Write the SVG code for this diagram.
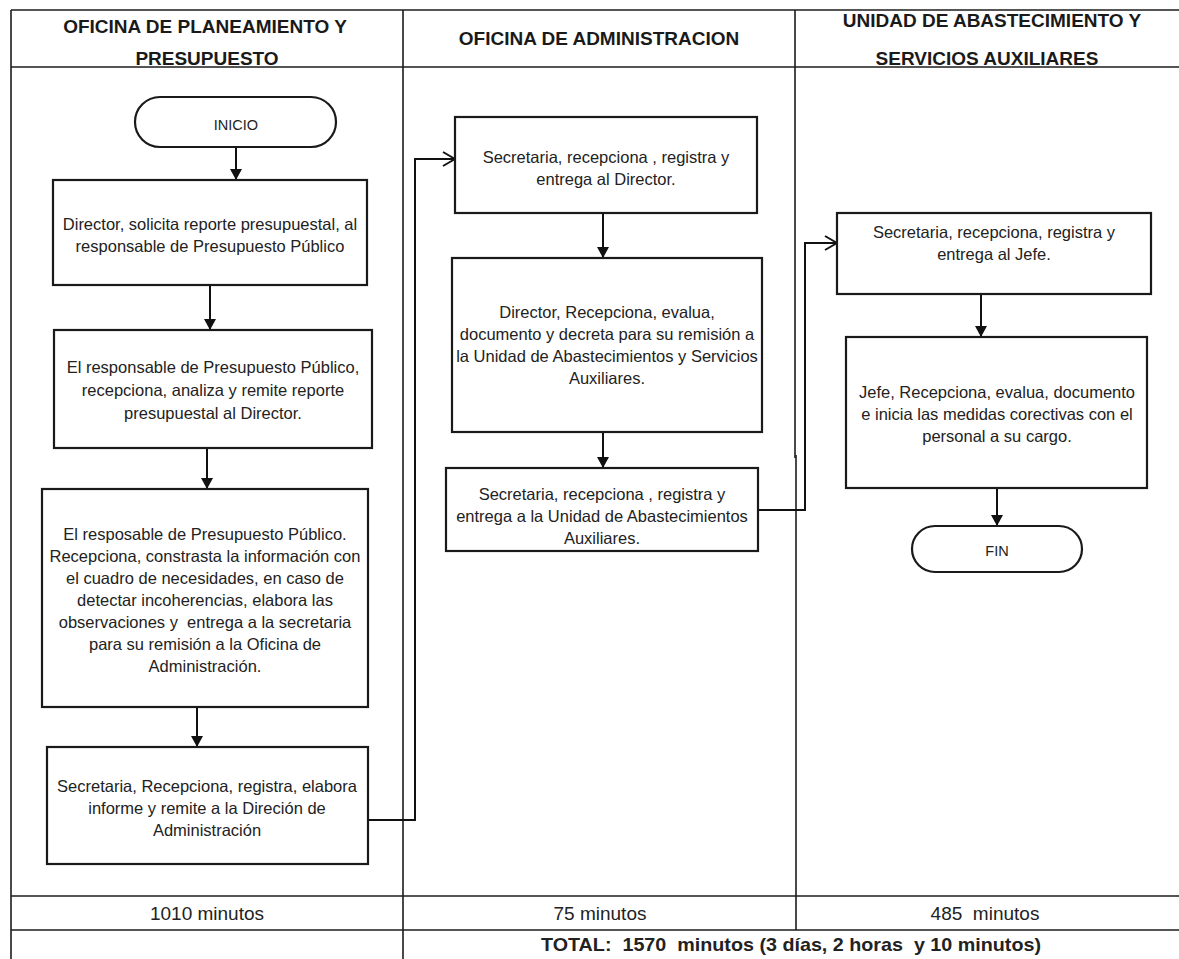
<svg xmlns="http://www.w3.org/2000/svg" width="1179" height="959" viewBox="0 0 1179 959">
  <style>
    .grid { stroke: #1c1c1c; stroke-width: 1.6; fill: none; }
    .box { fill: #fff; stroke: #1a1a1a; stroke-width: 2.2; }
    .t { font-family: "Liberation Sans", Arial, sans-serif; font-size: 16.5px; fill: #222; text-anchor: middle; }
    .h { font-weight: bold; font-size: 19px; fill: #1a1a1a; }
    .term { font-size: 14.5px; }
    .foot { font-size: 19px; }
    .total { font-weight: bold; font-size: 18.5px; }
    .conn { stroke: #111; stroke-width: 2; fill: none; }
  </style>
  <defs>
    <marker id="solid" viewBox="0 0 11 12" refX="11" refY="6" markerWidth="11" markerHeight="12" markerUnits="userSpaceOnUse" orient="auto">
      <path d="M0,0 L11,6 L0,12 Z" fill="#111"/>
    </marker>
    <marker id="open" viewBox="0 0 14 16" refX="13" refY="8" markerWidth="14" markerHeight="16" markerUnits="userSpaceOnUse" orient="auto">
      <path d="M1,1 L13,8 L1,15" fill="none" stroke="#111" stroke-width="2"/>
    </marker>
  </defs>

  <rect width="1179" height="959" fill="#fff"/>

  <!-- swimlane table -->
  <g id="lanes">
    <line class="grid" x1="11" y1="10" x2="1179" y2="10"/>
    <line class="grid" x1="11" y1="67" x2="1179" y2="67"/>
    <line class="grid" x1="11" y1="896" x2="1179" y2="896"/>
    <line class="grid" x1="11" y1="930" x2="1179" y2="930"/>
    <line class="grid" x1="11" y1="10" x2="11" y2="959"/>
    <line class="grid" x1="403" y1="10" x2="403" y2="959"/>
    <line class="grid" x1="795" y1="10" x2="795" y2="458"/>
    <line class="grid" x1="796" y1="455" x2="796" y2="930" stroke-width="2.6"/>
  </g>

  <g id="headers">
    <text class="t h" x="205" y="33">OFICINA DE PLANEAMIENTO Y</text>
    <text class="t h" x="207" y="65">PRESUPUESTO</text>
    <text class="t h" x="599" y="45">OFICINA DE ADMINISTRACION</text>
    <text class="t h" x="992" y="27">UNIDAD DE ABASTECIMIENTO Y</text>
    <text class="t h" x="987" y="65">SERVICIOS AUXILIARES</text>
  </g>

  <!-- connectors -->
  <g id="connectors">
    <path class="conn" d="M236,147 V180" marker-end="url(#solid)"/>
    <path class="conn" d="M210,285 V330" marker-end="url(#solid)"/>
    <path class="conn" d="M207,448 V489" marker-end="url(#solid)"/>
    <path class="conn" d="M197,707 V747" marker-end="url(#solid)"/>
    <path class="conn" d="M368,820 H415 V159 H455" marker-end="url(#open)"/>
    <path class="conn" d="M603,213 V258" marker-end="url(#solid)"/>
    <path class="conn" d="M603,432 V468" marker-end="url(#solid)"/>
    <path class="conn" d="M758,510 H805 V243 H837" marker-end="url(#open)"/>
    <path class="conn" d="M981,295 V337" marker-end="url(#solid)"/>
    <path class="conn" d="M997,488 V526" marker-end="url(#solid)"/>
  </g>

  <!-- Oficina de Planeamiento y Presupuesto -->
  <g id="inicio">
    <rect class="box" x="135" y="97" width="201" height="50" rx="25" ry="25"/>
    <text class="t term" x="236" y="130">INICIO</text>
  </g>
  <g id="p1">
    <rect class="box" x="53" y="180" width="314" height="105"/>
    <text class="t" x="210" y="230">Director, solicita reporte presupuestal, al</text>
    <text class="t" x="210" y="252">responsable de Presupuesto Público</text>
  </g>
  <g id="p2">
    <rect class="box" x="54" y="330" width="318" height="118"/>
    <text class="t" x="213" y="373">El responsable de Presupuesto Público,</text>
    <text class="t" x="213" y="396">recepciona, analiza y remite reporte</text>
    <text class="t" x="213" y="419">presupuestal al Director.</text>
  </g>
  <g id="p3">
    <rect class="box" x="42" y="489" width="326" height="218"/>
    <text class="t" x="205" y="540">El resposable de Presupuesto Público.</text>
    <text class="t" x="205" y="562">Recepciona, constrasta la información con</text>
    <text class="t" x="205" y="584">el cuadro de necesidades, en caso de</text>
    <text class="t" x="205" y="606">detectar incoherencias, elabora las</text>
    <text class="t" x="205" y="628" xml:space="preserve">observaciones y  entrega a la secretaria</text>
    <text class="t" x="205" y="650">para su remisión a la Oficina de</text>
    <text class="t" x="205" y="672">Administración.</text>
  </g>
  <g id="p4">
    <rect class="box" x="47" y="747" width="321" height="117"/>
    <text class="t" x="207" y="792">Secretaria, Recepciona, registra, elabora</text>
    <text class="t" x="207" y="814">informe y remite a la Direción de</text>
    <text class="t" x="207" y="836">Administración</text>
  </g>

  <!-- Oficina de Administracion -->
  <g id="a1">
    <rect class="box" x="455" y="117" width="302" height="96"/>
    <text class="t" x="606" y="163">Secretaria, recepciona , registra y</text>
    <text class="t" x="606" y="185">entrega al Director.</text>
  </g>
  <g id="a2">
    <rect class="box" x="452" y="258" width="310" height="174"/>
    <text class="t" x="607" y="318">Director, Recepciona, evalua,</text>
    <text class="t" x="607" y="340">documento y decreta para su remisión a</text>
    <text class="t" x="607" y="362">la Unidad de Abastecimientos y Servicios</text>
    <text class="t" x="607" y="384">Auxiliares.</text>
  </g>
  <g id="a3">
    <rect class="box" x="446" y="468" width="312" height="83"/>
    <text class="t" x="602" y="500">Secretaria, recepciona , registra y</text>
    <text class="t" x="602" y="522">entrega a la Unidad de Abastecimientos</text>
    <text class="t" x="602" y="544">Auxiliares.</text>
  </g>

  <!-- Unidad de Abastecimiento y Servicios Auxiliares -->
  <g id="u1">
    <rect class="box" x="837" y="213" width="314" height="81"/>
    <text class="t" x="994" y="238">Secretaria, recepciona, registra y</text>
    <text class="t" x="994" y="260">entrega al Jefe.</text>
  </g>
  <g id="u2">
    <rect class="box" x="846" y="337" width="301" height="151"/>
    <text class="t" x="997" y="398">Jefe, Recepciona, evalua, documento</text>
    <text class="t" x="997" y="420">e inicia las medidas corectivas con el</text>
    <text class="t" x="997" y="442">personal a su cargo.</text>
  </g>
  <g id="fin">
    <rect class="box" x="912" y="526" width="170" height="46" rx="23" ry="23"/>
    <text class="t term" x="997" y="556">FIN</text>
  </g>

  <!-- time totals -->
  <g id="footer">
    <text class="t foot" x="207" y="920">1010 minutos</text>
    <text class="t foot" x="600" y="920">75 minutos</text>
    <text class="t foot" x="985" y="920" xml:space="preserve">485  minutos</text>
    <text class="t total" x="791" y="951" xml:space="preserve" textLength="500" lengthAdjust="spacingAndGlyphs">TOTAL:  1570  minutos (3 días, 2 horas  y 10 minutos)</text>
  </g>
</svg>
